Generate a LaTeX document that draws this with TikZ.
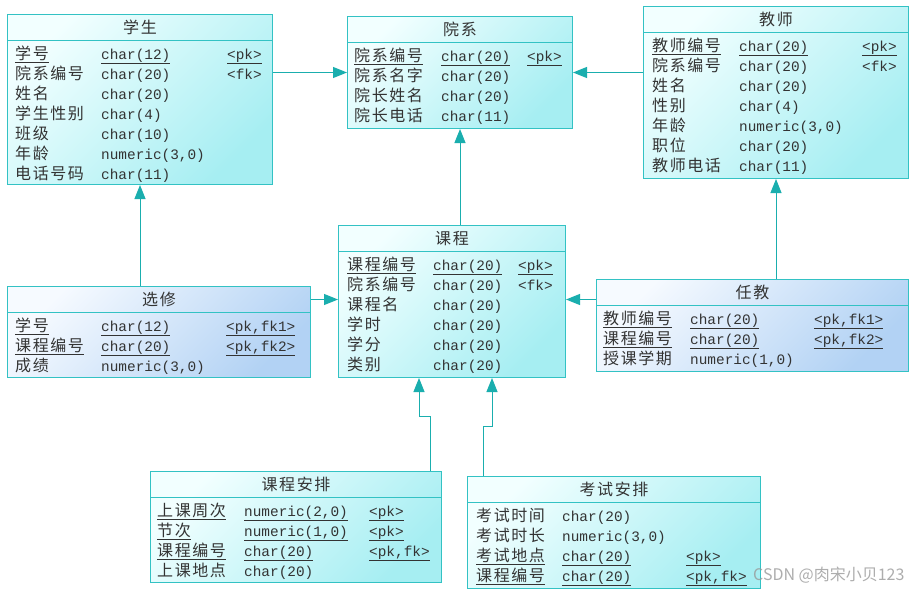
\documentclass[tikz,border=0pt]{standalone}
\usepackage{fontspec}
\usepackage{array}
\setmonofont{Liberation Mono}[Scale=0.9]
\newfontfamily\cjk[LetterSpace=10]{Noto Sans CJK SC}
\newfontfamily\wmfont{Noto Sans CJK SC}
\usetikzlibrary{arrows.meta,calc}
\definecolor{border}{HTML}{33C2C4}
\definecolor{link}{HTML}{1AAEAE}
\definecolor{ink}{HTML}{333333}
\definecolor{cyanlt}{HTML}{F2FFFF}
\definecolor{cyandk}{HTML}{A6EEF2}
\definecolor{bluelt}{HTML}{F6FAFF}
\definecolor{bluedk}{HTML}{B2D2F4}
\newcolumntype{N}[1]{>{\cjk}p{#1}@{}}
\newcolumntype{T}[1]{>{\ttfamily}p{#1}@{}}
\newcolumntype{K}{>{\ttfamily}l}
\newcommand{\keyul}[1]{\underline{#1}}
\tikzset{
  >={Triangle[length=14pt,width=11pt]},
  tbl/.style={draw=border,line width=1pt,top color=cyanlt,bottom color=cyandk,shading angle=45,inner sep=0pt,anchor=north west},
  reltbl/.style={tbl,top color=bluelt,bottom color=bluedk,shading angle=45},
  hdr/.style={draw=border,line width=1pt,minimum height=26pt,inner sep=0pt,font=\cjk\fontsize{16}{20}\selectfont,text=ink,anchor=north},
  rows/.style={inner sep=0pt,anchor=north west,align=left,font=\fontsize{16}{20}\selectfont,text=ink},
  fk/.style={->,draw=link,line width=1pt},
  wmark/.style={font=\wmfont\fontsize{16}{18}\selectfont,text=black!40,opacity=0.8},
}

\begin{document}
\begin{tikzpicture}[x=1pt,y=-1pt]
\path[use as bounding box,fill=white] (0,0) rectangle (923,594);

% entities
\node[tbl,minimum width=265pt,minimum height=170pt] (xuesheng) at (7,14) {};
\node[hdr,minimum width=265pt] (xuesheng-h) at (xuesheng.north) {学生};
\node[rows] (xuesheng-b) at ($(xuesheng-h.south west)+(8,4)$) {\begin{tabular}{@{}N{86pt}T{126pt}K@{}}
\keyul{学号}&\keyul{char(12)}&\keyul{<pk>}\\
院系编号&char(20)&<fk>\\
姓名&char(20)&\\
学生性别&char(4)&\\
班级&char(10)&\\
年龄&numeric(3,0)&\\
电话号码&char(11)&
\end{tabular}};

\node[tbl,minimum width=225pt,minimum height=112pt] (yuanxi) at (347,16) {};
\node[hdr,minimum width=225pt] (yuanxi-h) at (yuanxi.north) {院系};
\node[rows] (yuanxi-b) at ($(yuanxi-h.south west)+(7,4)$) {\begin{tabular}{@{}N{87pt}T{86pt}K@{}}
\keyul{院系编号}&\keyul{char(20)}&\keyul{<pk>}\\
院系名字&char(20)&\\
院长姓名&char(20)&\\
院长电话&char(11)&
\end{tabular}};

\node[tbl,minimum width=265pt,minimum height=172pt] (jiaoshi) at (643,6) {};
\node[hdr,minimum width=265pt] (jiaoshi-h) at (jiaoshi.north) {教师};
\node[rows] (jiaoshi-b) at ($(jiaoshi-h.south west)+(9,4)$) {\begin{tabular}{@{}N{87pt}T{123pt}K@{}}
\keyul{教师编号}&\keyul{char(20)}&\keyul{<pk>}\\
院系编号&char(20)&<fk>\\
姓名&char(20)&\\
性别&char(4)&\\
年龄&numeric(3,0)&\\
职位&char(20)&\\
教师电话&char(11)&
\end{tabular}};

\node[reltbl,minimum width=303pt,minimum height=91pt] (xuanxiu) at (7,286) {};
\node[hdr,minimum width=303pt] (xuanxiu-h) at (xuanxiu.north) {选修};
\node[rows] (xuanxiu-b) at ($(xuanxiu-h.south west)+(8,4)$) {\begin{tabular}{@{}N{86pt}T{125pt}K@{}}
\keyul{学号}&\keyul{char(12)}&\keyul{<pk,fk1>}\\
\keyul{课程编号}&\keyul{char(20)}&\keyul{<pk,fk2>}\\
成绩&numeric(3,0)&
\end{tabular}};

\node[tbl,minimum width=227pt,minimum height=152pt] (kecheng) at (338,225) {};
\node[hdr,minimum width=227pt] (kecheng-h) at (kecheng.north) {课程};
\node[rows] (kecheng-b) at ($(kecheng-h.south west)+(9,4)$) {\begin{tabular}{@{}N{86pt}T{85pt}K@{}}
\keyul{课程编号}&\keyul{char(20)}&\keyul{<pk>}\\
院系编号&char(20)&<fk>\\
课程名&char(20)&\\
学时&char(20)&\\
学分&char(20)&\\
类别&char(20)&
\end{tabular}};

\node[reltbl,minimum width=312pt,minimum height=92pt] (renjiao) at (596,279) {};
\node[hdr,minimum width=312pt] (renjiao-h) at (renjiao.north) {任教};
\node[rows] (renjiao-b) at ($(renjiao-h.south west)+(7,4)$) {\begin{tabular}{@{}N{87pt}T{124pt}K@{}}
\keyul{教师编号}&\keyul{char(20)}&\keyul{<pk,fk1>}\\
\keyul{课程编号}&\keyul{char(20)}&\keyul{<pk,fk2>}\\
授课学期&numeric(1,0)&
\end{tabular}};

\node[tbl,minimum width=291pt,minimum height=111pt] (kcap) at (150,471) {};
\node[hdr,minimum width=291pt] (kcap-h) at (kcap.north) {课程安排};
\node[rows] (kcap-b) at ($(kcap-h.south west)+(7,4)$) {\begin{tabular}{@{}N{87pt}T{125pt}K@{}}
\keyul{上课周次}&\keyul{numeric(2,0)}&\keyul{<pk>}\\
\keyul{节次}&\keyul{numeric(1,0)}&\keyul{<pk>}\\
\keyul{课程编号}&\keyul{char(20)}&\keyul{<pk,fk>}\\
上课地点&char(20)&
\end{tabular}};

\node[tbl,minimum width=293pt,minimum height=112pt] (ksap) at (467,476) {};
\node[hdr,minimum width=293pt] (ksap-h) at (ksap.north) {考试安排};
\node[rows] (ksap-b) at ($(ksap-h.south west)+(9,4)$) {\begin{tabular}{@{}N{86pt}T{124pt}K@{}}
考试时间&char(20)&\\
考试时长&numeric(3,0)&\\
\keyul{考试地点}&\keyul{char(20)}&\keyul{<pk>}\\
\keyul{课程编号}&\keyul{char(20)}&\keyul{<pk,fk>}
\end{tabular}};

% references
\draw[fk] (yuanxi.west -| xuesheng.east) -- (yuanxi.west);
\draw[fk] (yuanxi.east -| jiaoshi.west) -- (yuanxi.east);
\draw[fk] (kecheng.north -| yuanxi.south) -- (yuanxi.south);
\draw[fk] (xuesheng.south |- xuanxiu.north) -- (xuesheng.south);
\draw[fk] (xuanxiu-h.east) -- (xuanxiu-h.east -| kecheng.west);
\draw[fk] (renjiao.west |- xuanxiu-h.east) -- (kecheng.east |- xuanxiu-h.east);
\draw[fk] (jiaoshi.south |- renjiao.north) -- (jiaoshi.south);
\draw[fk] ([xshift=-12pt]kcap.north east) |- ([xshift=-33pt,yshift=-38pt]kecheng.south) -- ([xshift=-33pt]kecheng.south);
\draw[fk] ([xshift=16pt]ksap.north west) |- ([xshift=40pt,yshift=-48pt]kecheng.south) -- ([xshift=40pt]kecheng.south);

\node[wmark,anchor=east] (wm) at (908,575) {CSDN @肉宋小贝123};
\end{tikzpicture}
\end{document}
